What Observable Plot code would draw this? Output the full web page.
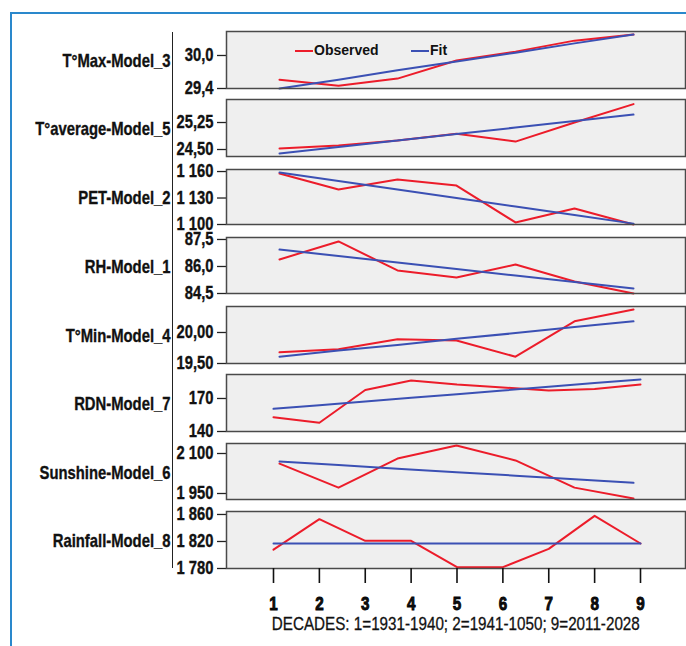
<!DOCTYPE html>
<html>
<head>
<meta charset="utf-8">
<script src="https://cdn.jsdelivr.net/npm/d3@7"></script>
<script src="https://cdn.jsdelivr.net/npm/@observablehq/plot@0.6"></script>
<style>
html, body { margin: 0; padding: 0; background: #fff; overflow: hidden; }
#root { position: relative; width: 686px; height: 646px; overflow: hidden; background: #fff;
  font-family: "Liberation Sans", Arial, sans-serif; }
#frame { position: absolute; left: 10px; top: 12px; width: 800px; height: 800px;
  border-left: 2px solid #2a88cc; border-top: 2px solid #2a88cc; }
#axisline { position: absolute; left: 172px; top: 32px; width: 0; height: 536px; border-left: 1.5px solid #222; }
.panel { position: absolute; left: 0; }
#legend { position: absolute; top: 42px; left: 295px; height: 16px; width: 200px;
  font: bold 14px "Liberation Sans", Arial, sans-serif; color: #111; }
#legend .item { position: absolute; top: 0; white-space: nowrap; line-height: 16px; }
#legend .sw { display: inline-block; width: 18px; height: 2px; vertical-align: middle; margin-right: 1px; }
#caption { position: absolute; top: 613px; left: 226px; width: 459px; text-align: center; white-space: nowrap; }
#caption span { display: inline-block; font-size: 18.5px; color: #111; line-height: 22px;
  -webkit-text-stroke: 0.3px #111; transform-origin: 50% 50%; }
g[aria-label="y-axis tick"] { stroke-width: 1.3px; }
g[aria-label="x-axis tick"] { stroke-width: 1.6px; }
g[aria-label="x-axis tick label"] { font-size: 19px; font-weight: 900; stroke: #000; stroke-width: 0.9px; }
g[aria-label="y-axis tick label"], g[aria-label="text"] { stroke: #111; stroke-width: 0.35px; }
</style>
</head>
<body>
<div id="root">
  <div id="frame"></div>
  <div id="axisline"></div>
  <div id="legend"></div>
  <div id="caption"><span></span></div>
</div>
<script>
// ---------- data ----------
const decades = [1, 2, 3, 4, 5, 6, 7, 8, 9];
const points7 = [1, 2, 3, 4, 5, 6, 7];
const seriesNames = ["Observed", "Fit"];
const captionText = "DECADES: 1=1931-1940; 2=1941-1050; 9=2011-2028";

const panelTitles = ["T°Max-Model_3", "T°average-Model_5", "PET-Model_2", "RH-Model_1",
  "T°Min-Model_4", "RDN-Model_7", "Sunshine-Model_6", "Rainfall-Model_8"];

const tmaxObs = [29.56, 29.45, 29.58, 29.91, 30.07, 30.27, 30.38];
const tmaxFit = [29.40, 29.56, 29.73, 29.89, 30.05, 30.22, 30.38];
const tavgObs = [24.53, 24.61, 24.75, 24.94, 24.72, 25.25, 25.76];
const tavgFit = [24.39, 24.57, 24.75, 24.93, 25.11, 25.29, 25.47];
const petObs = [1157.7, 1139.6, 1150.9, 1144.1, 1102.3, 1118.1, 1100.0];
const petFit = [1159.0, 1149.3, 1139.7, 1130.0, 1120.3, 1110.7, 1101.0];
const rhObs = [86.39, 87.39, 85.78, 85.39, 86.11, 85.17, 84.50];
const rhFit = [86.94, 86.58, 86.22, 85.86, 85.50, 85.14, 84.78];
const tminObs = [19.68, 19.73, 19.89, 19.87, 19.61, 20.18, 20.37];
const tminFit = [19.61, 19.71, 19.80, 19.90, 19.99, 20.09, 20.18];
const rdnObs = [153.0, 147.9, 177.7, 186.4, 182.7, 180.0, 177.3, 178.6, 182.7];
const rdnFit = [160.6, 163.9, 167.3, 170.6, 173.9, 177.3, 180.6, 184.0, 187.3];
const sunObs = [2062, 1972, 2081, 2130, 2074, 1972, 1931];
const sunFit = [2070, 2057, 2043, 2030, 2017, 2003, 1990];
const rainObs = [1808, 1853, 1821, 1821, 1782, 1782, 1809, 1858, 1817];
const rainFit = [1817, 1817, 1817, 1817, 1817, 1817, 1817, 1817, 1817];

const tmaxTicks = [29.4, 30.0],        tmaxLabels = ["29,4", "30,0"];
const tavgTicks = [24.5, 25.25],       tavgLabels = ["24,50", "25,25"];
const petTicks = [1100, 1130, 1160],   petLabels = ["1 100", "1 130", "1 160"];
const rhTicks = [84.5, 86.0, 87.5],    rhLabels = ["84,5", "86,0", "87,5"];
const tminTicks = [19.5, 20.0],        tminLabels = ["19,50", "20,00"];
const rdnTicks = [140, 170],           rdnLabels = ["140", "170"];
const sunTicks = [1950, 2100],         sunLabels = ["1 950", "2 100"];
const rainTicks = [1780, 1820, 1860],  rainLabels = ["1 780", "1 820", "1 860"];

// ---------- layout / config ----------
const RED = "#ec1c2a", BLUE = "#3b50b4";
const FONT = '"Liberation Sans", Arial, sans-serif';
const NARROW = 0.82;       // emulate a narrow (condensed) face for tick labels
const NARROW_TITLE = 0.78; // panel titles are a touch larger, same width
const CAPTION_WIDTH = 368;

const panels = [
  {title: panelTitles[0], x: points7, obs: tmaxObs, fit: tmaxFit, ticks: tmaxTicks, labels: tmaxLabels, top: 31, bottom: 88, domain: [29.4, 30.436]},
  {title: panelTitles[1], x: points7, obs: tavgObs, fit: tavgFit, ticks: tavgTicks, labels: tavgLabels, top: 99, bottom: 156, domain: [24.306, 25.889]},
  {title: panelTitles[2], x: points7, obs: petObs, fit: petFit, ticks: petTicks, labels: petLabels, top: 169, bottom: 224, domain: [1100, 1162.3]},
  {title: panelTitles[3], x: points7, obs: rhObs, fit: rhFit, ticks: rhTicks, labels: rhLabels, top: 237, bottom: 293, domain: [84.5, 87.61]},
  {title: panelTitles[4], x: points7, obs: tminObs, fit: tminFit, ticks: tminTicks, labels: tminLabels, top: 306, bottom: 363, domain: [19.5, 20.419]},
  {title: panelTitles[5], x: decades, obs: rdnObs, fit: rdnFit, ticks: rdnTicks, labels: rdnLabels, top: 374, bottom: 431, domain: [140, 191.8]},
  {title: panelTitles[6], x: points7, obs: sunObs, fit: sunFit, ticks: sunTicks, labels: sunLabels, top: 443, bottom: 499, domain: [1927.5, 2137.5]},
  {title: panelTitles[7], x: decades, obs: rainObs, fit: rainFit, ticks: rainTicks, labels: rainLabels, top: 511, bottom: 568, domain: [1780, 1864.4], last: true}
];

const root = document.getElementById("root");

panels.forEach((p) => {
  const n = p.x.length;
  const seven = n === 7;
  const mt = 12;
  const mb = p.last ? 646 - p.bottom : 12;
  const rows = p.x.map((k, i) => ({k, obs: p.obs[i], fit: p.fit[i]}));
  const labelMap = new Map(p.ticks.map((t, j) => [t, p.labels[j]]));
  const marks = [
    Plot.frame({fill: "#efefef"}),
    Plot.axisY({ticks: p.ticks, tickFormat: (d) => labelMap.get(d), tickSize: 9, tickPadding: 4, label: null, stroke: "#222"}),
    Plot.line(rows, {x: "k", y: "obs", stroke: RED, strokeWidth: 2}),
    Plot.line(rows, {x: "k", y: "fit", stroke: BLUE, strokeWidth: 2}),
    Plot.frame({stroke: "#4a4a4a", strokeWidth: 1.5}),
    Plot.text([p.title], {text: (d) => d, frameAnchor: "left", dx: -56, dy: 1, textAnchor: "end", fontSize: 19, fontWeight: "bold", fill: "#111"})
  ];
  if (p.last) {
    marks.push(Plot.axisX({ticks: decades, tickFormat: (d) => String(d), tickSize: 15, tickPadding: 13, label: null, stroke: "#111"}));
  }
  const chart = Plot.plot({
    width: 686,
    height: (p.bottom - p.top) + mt + mb,
    marginTop: mt, marginBottom: mb, marginLeft: 226, marginRight: 1,
    style: {background: "transparent", overflow: "visible", fontFamily: FONT, fontSize: "18px", fontWeight: "bold", color: "#111"},
    x: {domain: [1, n], insetLeft: seven ? 53 : 47, insetRight: seven ? 52 : 45, axis: p.last ? undefined : null},
    y: {domain: p.domain},
    marks
  });
  chart.classList.add("panel");
  chart.style.top = (p.top - mt) + "px";
  root.appendChild(chart);
  // condense texts to mimic the narrow bold face of the original
  chart.querySelectorAll("text").forEach((t) => {
    const len = t.getComputedTextLength();
    const isTitle = t.closest('g[aria-label="text"]') !== null;
    const f = isTitle ? NARROW_TITLE : (t.closest('g[aria-label="x-axis tick label"]') ? 0.8 : NARROW);
    if (len > 0) {
      t.setAttribute("textLength", (len * f).toFixed(2));
      t.setAttribute("lengthAdjust", "spacingAndGlyphs");
    }
  });
});

// legend
const legend = document.getElementById("legend");
[[seriesNames[0], RED, 0], [seriesNames[1], BLUE, 116]].forEach(([name, color, left]) => {
  const item = document.createElement("div");
  item.className = "item";
  item.style.left = left + "px";
  const sw = document.createElement("span");
  sw.className = "sw";
  sw.style.background = color;
  item.appendChild(sw);
  item.appendChild(document.createTextNode(name));
  legend.appendChild(item);
});
root.appendChild(legend);

const capSpan = document.querySelector("#caption span");
capSpan.textContent = captionText;
root.appendChild(document.getElementById("caption"));
const w = capSpan.getBoundingClientRect().width;
capSpan.style.transform = `scaleX(${(CAPTION_WIDTH / w).toFixed(3)})`;
</script>
</body>
</html>
